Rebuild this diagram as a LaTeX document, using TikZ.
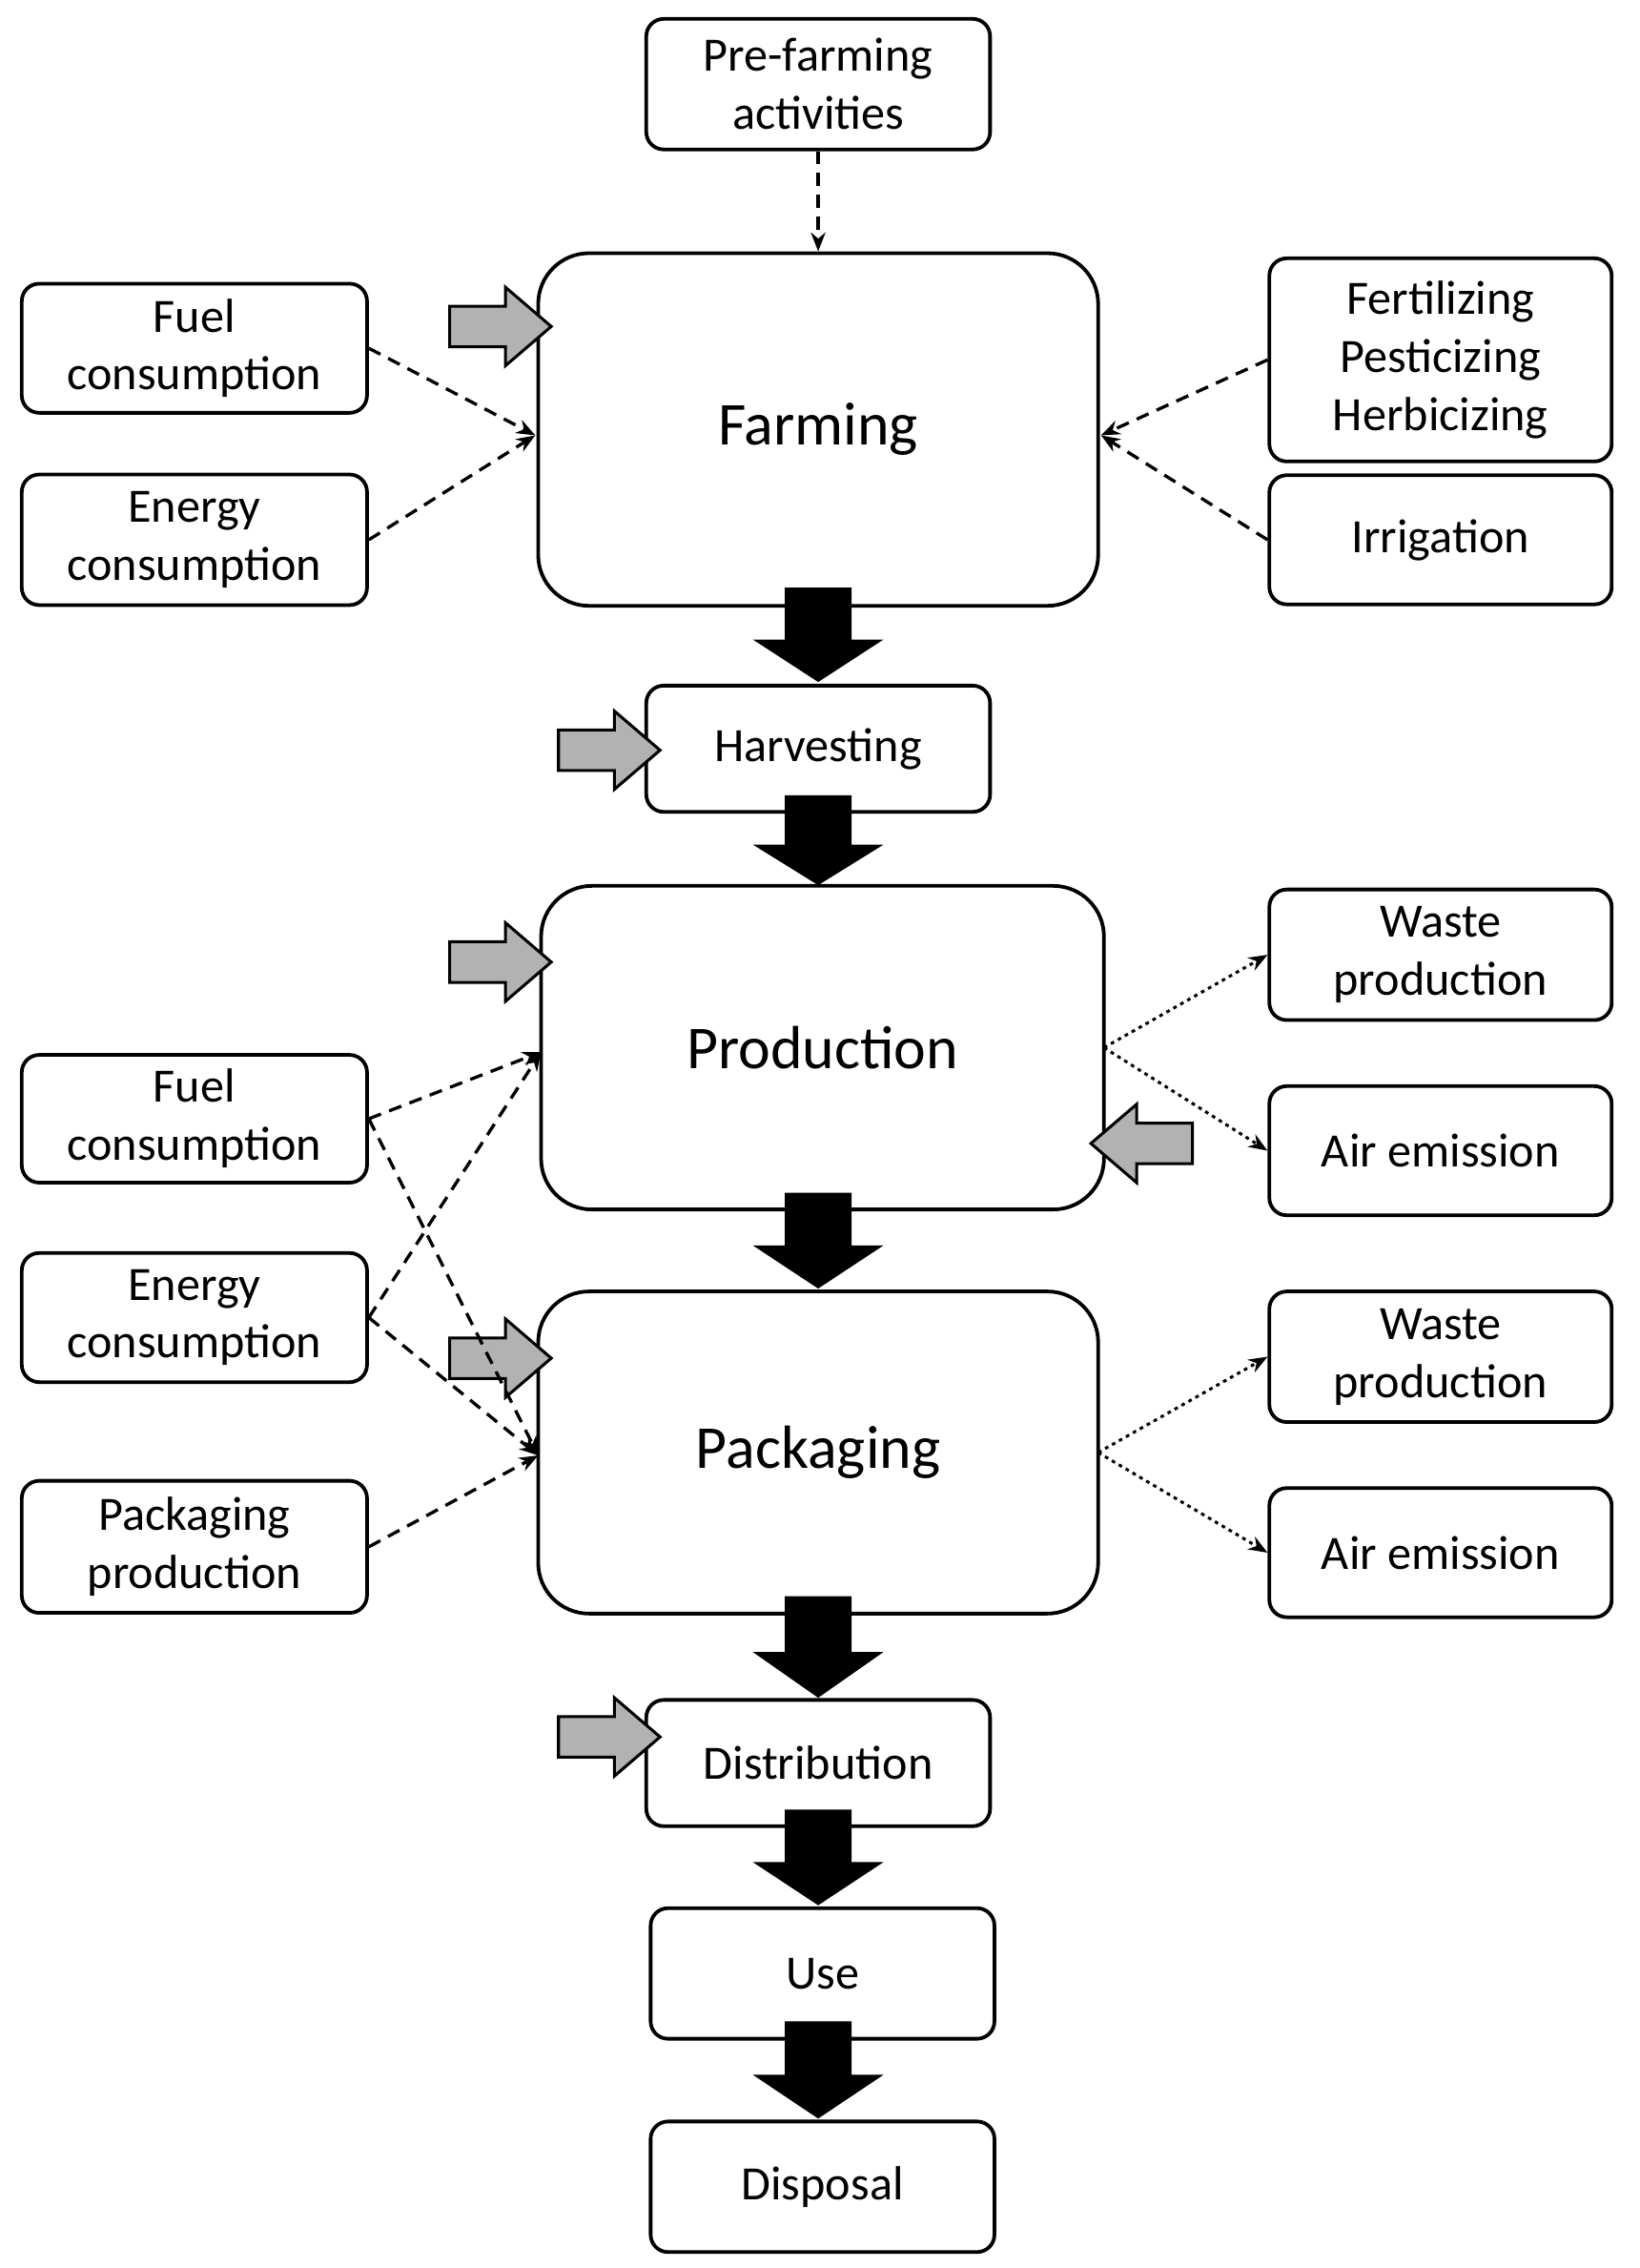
\documentclass[tikz,border=0pt]{standalone}
\usepackage{fontspec}
\setmainfont{Carlito}
\usetikzlibrary{arrows.meta}
\begin{document}
\begin{tikzpicture}[x=1pt,y=-1pt,
 sb/.style={draw,line width=2.5pt,rounded corners=12pt,align=center,font=\fontsize{33}{40}\selectfont,inner sep=0pt},
 bb/.style={draw,line width=2.5pt,rounded corners=35pt,align=center,font=\fontsize{42}{50}\selectfont,inner sep=0pt},
 da/.style={line width=2.2pt,dash pattern=on 9pt off 6pt,-{Stealth[length=13pt,width=10pt]}},
 dt/.style={line width=2pt,dash pattern=on 2.5pt off 3pt,-{Stealth[length=13pt,width=10pt]}}]
\useasboundingbox (0,0) rectangle (1130,1563);
\newcommand\bx[6]{\node[#6,minimum width=#4-#2,minimum height=#5-#3] (#1) at ({(#2+#4)/2},{(#3+#5)/2}) {};}
\newcommand\blk[3]{\fill (#1-23,#2) -- (#1+23,#2) -- (#1+23,{#2+0.55*(#3-#2)}) -- (#1+45,{#2+0.55*(#3-#2)}) -- (#1,#3) -- (#1-45,{#2+0.55*(#3-#2)}) -- (#1-23,{#2+0.55*(#3-#2)}) -- cycle;}
\newcommand\gry[4]{\filldraw[fill=gray!60,line width=2pt,line join=miter] (#1,#3-14) -- ({#1+#4*0.55*(#2-#1)/#4},#3-14) -- ({#1+0.55*(#2-#1)},#3-27) -- (#2,#3) -- ({#1+0.55*(#2-#1)},#3+27) -- ({#1+0.55*(#2-#1)},#3+14) -- (#1,#3+14) -- cycle;}
% nodes
\node[sb,minimum width=237,minimum height=90] (pre) at (564,58) {Pre-farming\\activities};
\node[bb,minimum width=386,minimum height=243] (farm) at (564,296) {Farming};
\node[sb,minimum width=238,minimum height=89] (fuel1) at (134,240) {Fuel\\consumption};
\node[sb,minimum width=238,minimum height=90] (en1) at (134,372) {Energy\\consumption};
\node[sb,minimum width=236,minimum height=140] (fert) at (993,248) {Fertilizing\\Pesticizing\\Herbicizing};
\node[sb,minimum width=236,minimum height=89] (irr) at (993,372) {Irrigation};
\node[sb,minimum width=237,minimum height=87] (harv) at (564,516) {Harvesting};
\node[bb,minimum width=388,minimum height=223] (prod) at (567,722) {Production};
\node[sb,minimum width=236,minimum height=90] (w1) at (993,658) {Waste\\production};
\node[sb,minimum width=236,minimum height=89] (a1) at (993,793) {Air emission};
\node[sb,minimum width=238,minimum height=88] (fuel2) at (134,771) {Fuel\\consumption};
\node[sb,minimum width=238,minimum height=89] (en2) at (134,908) {Energy\\consumption};
\node[sb,minimum width=238,minimum height=91] (pp) at (134,1066) {Packaging\\production};
\node[bb,minimum width=386,minimum height=222] (pack) at (564,1001) {Packaging};
\node[sb,minimum width=236,minimum height=90] (w2) at (993,935) {Waste\\production};
\node[sb,minimum width=236,minimum height=89] (a2) at (993,1070) {Air emission};
\node[sb,minimum width=237,minimum height=87] (dist) at (564,1215) {Distribution};
\node[sb,minimum width=237,minimum height=90] (use) at (567,1360) {Use};
\node[sb,minimum width=237,minimum height=90] (disp) at (567,1507) {Disposal};
% black block arrows
\blk{564}{405}{470}
\blk{564}{548}{610}
\blk{564}{822}{888}
\blk{564}{1100}{1170}
\blk{564}{1247}{1313}
\blk{564}{1393}{1460}
% grey arrows
\gry{310}{380}{225}{1}
\gry{385}{455}{517}{1}
\gry{310}{380}{663}{1}
\gry{822}{752}{788}{1}
\gry{310}{380}{936}{1}
\gry{385}{455}{1197}{1}
% dashed connectors
\coordinate (fl) at (369,300);
\coordinate (fr) at (759,300);
\draw[da] (pre.south) -- (farm.north);
\draw[da] (fuel1.east) -- (fl);
\draw[da] (en1.east) -- (fl);
\draw[da] (fert.west) -- (fr);
\draw[da] (irr.west) -- (fr);
\coordinate (pl) at (373,725);
\coordinate (kl) at (371,1003);
\draw[da] (fuel2.east) -- (pl);
\draw[da] (en2.east) -- (pl);
\draw[da] (fuel2.east) -- (kl);
\draw[da] (en2.east) -- (kl);
\draw[da] (pp.east) -- (kl);
\coordinate (pr) at (761,722);
\coordinate (kr) at (757,1001);
\draw[dt] (pr) -- (w1.west);
\draw[dt] (pr) -- (a1.west);
\draw[dt] (kr) -- (w2.west);
\draw[dt] (kr) -- (a2.west);
\end{tikzpicture}
\end{document}
